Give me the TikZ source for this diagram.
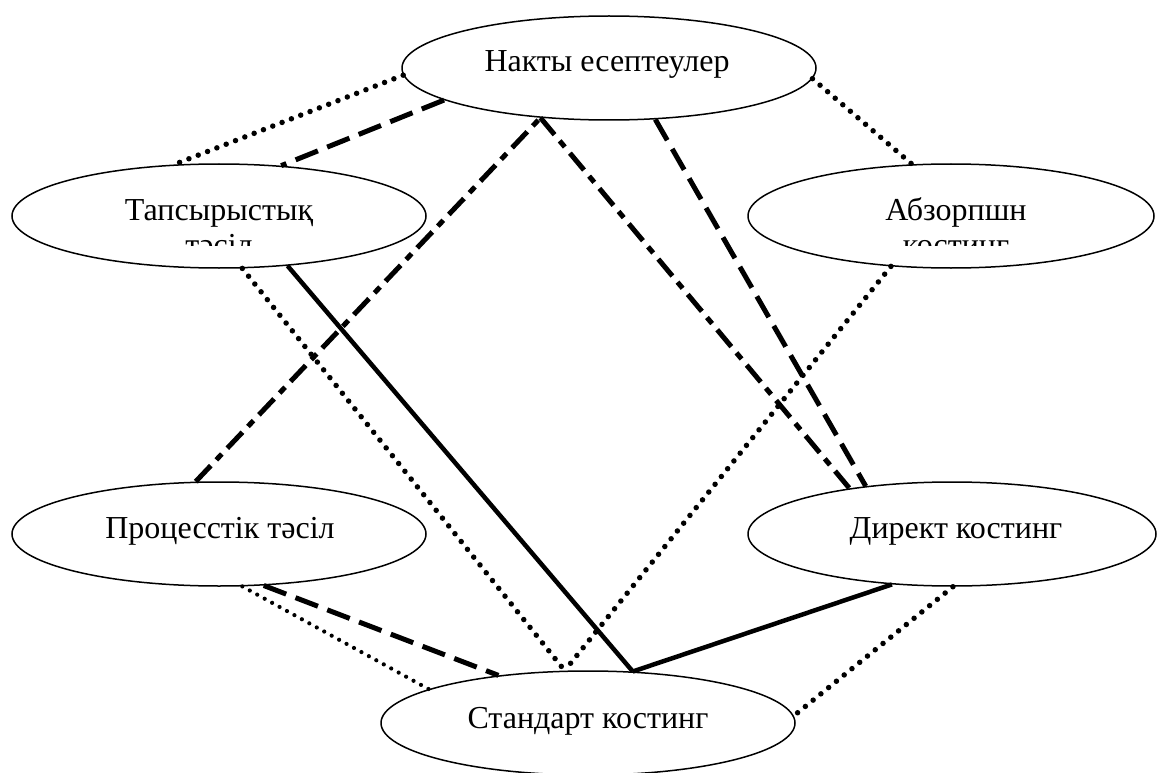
\documentclass[tikz,border=0pt]{standalone}
\usepackage{fontspec}
\setmainfont{Liberation Serif}
\usetikzlibrary{shapes.geometric}
\begin{document}
\begin{tikzpicture}[x=1pt,y=-1pt,
  ell/.style={ellipse,draw,line width=1.5pt,inner sep=0pt,minimum width=414pt,minimum height=104pt},
  lbl/.style={anchor=base,inner sep=0pt,font=\fontsize{32}{36}\selectfont},
  dotln/.style={line width=5.5pt,line cap=round,dash pattern=on 0pt off 10pt},
  finedot/.style={line width=4.2pt,line cap=round,dash pattern=on 0pt off 8.5pt},
  dashln/.style={line width=5pt,dash pattern=on 24pt off 10pt},
  dashdot/.style={line width=5pt,dash pattern=on 22pt off 8pt on 8pt off 8pt},
  solidln/.style={line width=4.5pt}]
\fill[white] (0,0) rectangle (1157,773);
\useasboundingbox (0,0) rectangle (1157,773);

% ellipses
\node[ell] (N) at (609,68) {};
\node[ell] (T) at (219,216) {};
\node[ell,minimum width=406pt] (A) at (951,216) {};
\node[ell] (P) at (219,534) {};
\node[ell,minimum width=408pt] (D) at (952,534) {};
\node[ell] (S) at (588,723) {};

% labels
\node[lbl] (nl) at (607,72) {Накты есептеулер};
\node[lbl] (tl1) at (219,220) {Тапсырыстық};
\begin{scope}
  \clip (0,150) rectangle (450,245);
  \node[lbl] (tl2) at (219,255) {тәсіл};
\end{scope}
\node[lbl] (al1) at (956,220) {Абзорпшн};
\begin{scope}
  \clip (740,150) rectangle (1157,245);
  \node[lbl] (al2) at (956,255) {костинг};
\end{scope}
\node[lbl] (pl) at (220,538) {Процесстік тәсіл};
\node[lbl] (dl) at (956,538) {Директ костинг};
\node[lbl] (sl) at (588,728) {Стандарт костинг};

% connectors
\draw[dotln] (N.182) -- (T.131.6);
\draw[dashln] (N.191.4) -- (T.39.1);
\draw[dashdot] (P.114.8) -- (N.216.9);
\draw[dashdot] (N.216.9) -- (D.156.7);
\draw[dashln] (N.312.7) -- (D.151.6);
\draw[dotln] (N.-3) -- (A.127.2);
\draw[dotln] (T.-66.5) -- (S.114.8);
\draw[solidln] (T.-36.9) -- (S.49.1);
\draw[dotln] (A.-140.3) -- (S.114.8);
\draw[solidln] (D.-140.5) -- (S.49.1);
\draw[dotln] (D.-89) -- (S.2.5);
\draw[finedot] (P.-66.1) -- (S.168.8);
\draw[dashln] (P.-49.2) -- (S.152.7);
\end{tikzpicture}
\end{document}
